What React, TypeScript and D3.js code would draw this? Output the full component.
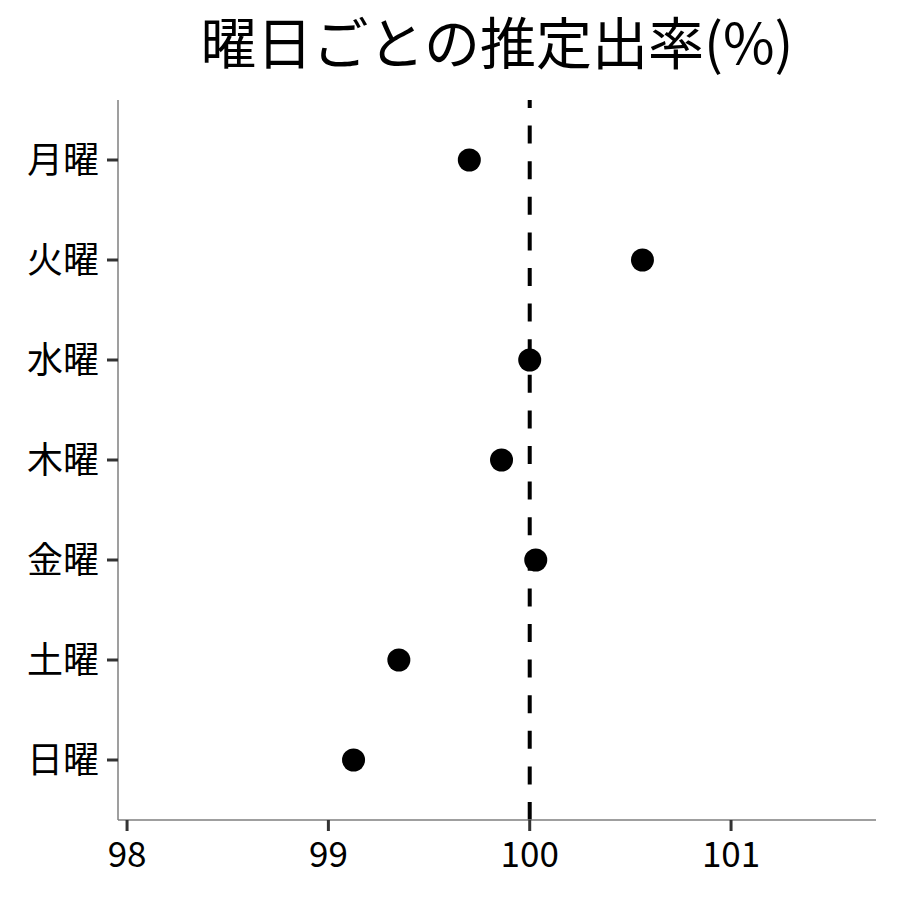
import React, { useRef, useEffect } from 'react';
import * as d3 from 'd3';

const days = ['月曜', '火曜', '水曜', '木曜', '金曜', '土曜', '日曜'];
const rates = [99.7, 100.56, 100.0, 99.86, 100.03, 99.35, 99.125];
const xTicks = [98, 99, 100, 101];
const refValue = 100;
const title = '曜日ごとの推定出率(%)';

const FONT = '"Noto Sans CJK JP", "Noto Sans", sans-serif';

const App: React.FC = () => {
  const svgRef = useRef<SVGSVGElement>(null);
  const width = 900;
  const height = 900;

  useEffect(() => {
    if (!svgRef.current) return;
    const svg = d3.select(svgRef.current);
    svg.selectAll('*').remove();

    const margin = { top: 100, right: 24, bottom: 80, left: 118 };
    const innerWidth = width - margin.left - margin.right;
    const innerHeight = height - margin.top - margin.bottom;

    // x: continuous
    const xScale = d3.scaleLinear().domain([97.955, 101.72]).range([0, innerWidth]);

    // y: discrete with ggplot-like 0.6 expansion
    const yPos = d3
      .scaleLinear()
      .domain([0.4, days.length + 0.6])
      .range([0, innerHeight]);
    const yOf = (i: number) => yPos(i + 1);

    const g = svg
      .append('g')
      .attr('transform', `translate(${margin.left},${margin.top})`);

    // Title
    svg
      .append('text')
      .attr('x', margin.left + innerWidth / 2)
      .attr('y', 64)
      .attr('text-anchor', 'middle')
      .attr('font-family', FONT)
      .attr('font-size', 56)
      .attr('fill', '#000')
      .text(title);

    // reference line (drawn bottom to top)
    g.append('line')
      .attr('x1', xScale(refValue))
      .attr('x2', xScale(refValue))
      .attr('y1', innerHeight)
      .attr('y2', 0)
      .attr('stroke', '#000')
      .attr('stroke-width', 4)
      .attr('stroke-dasharray', '18,17.6');

    // points
    g.selectAll('.point')
      .data(rates)
      .enter()
      .append('circle')
      .attr('class', 'point')
      .attr('cx', (d) => xScale(d))
      .attr('cy', (_d, i) => yOf(i))
      .attr('r', 11.5)
      .attr('fill', '#000');

    // x axis
    const xAxis = g.append('g').attr('transform', `translate(0,${innerHeight})`);
    xAxis
      .append('line')
      .attr('x1', 0)
      .attr('x2', innerWidth)
      .attr('stroke', '#7f7f7f')
      .attr('stroke-width', 1.5);
    xAxis
      .selectAll('.xtick')
      .data(xTicks)
      .enter()
      .append('line')
      .attr('x1', (d) => xScale(d))
      .attr('x2', (d) => xScale(d))
      .attr('y1', 0)
      .attr('y2', 11)
      .attr('stroke', '#333')
      .attr('stroke-width', 3);
    xAxis
      .selectAll('.xlabel')
      .data(xTicks)
      .enter()
      .append('text')
      .attr('x', (d) => xScale(d))
      .attr('y', 47)
      .attr('text-anchor', 'middle')
      .attr('font-family', FONT)
      .attr('font-size', 35)
      .attr('fill', '#000')
      .text((d) => d3.format('d')(d));

    // y axis
    const yAxis = g.append('g');
    yAxis
      .append('line')
      .attr('y1', 0)
      .attr('y2', innerHeight)
      .attr('stroke', '#7f7f7f')
      .attr('stroke-width', 1.5);
    yAxis
      .selectAll('.ytick')
      .data(days)
      .enter()
      .append('line')
      .attr('x1', -11)
      .attr('x2', 0)
      .attr('y1', (_d, i) => yOf(i))
      .attr('y2', (_d, i) => yOf(i))
      .attr('stroke', '#333')
      .attr('stroke-width', 3);
    yAxis
      .selectAll('.ylabel')
      .data(days)
      .enter()
      .append('text')
      .attr('x', -19)
      .attr('y', (_d, i) => yOf(i))
      .attr('dy', '0.36em')
      .attr('text-anchor', 'end')
      .attr('font-family', FONT)
      .attr('font-size', 36)
      .attr('fill', '#000')
      .text((d) => d);
  }, []);

  return (
    <div style={{ margin: -8, background: '#fff' }}>
      <svg ref={svgRef} width={width} height={height} style={{ display: 'block' }} />
    </div>
  );
};

export default App;
